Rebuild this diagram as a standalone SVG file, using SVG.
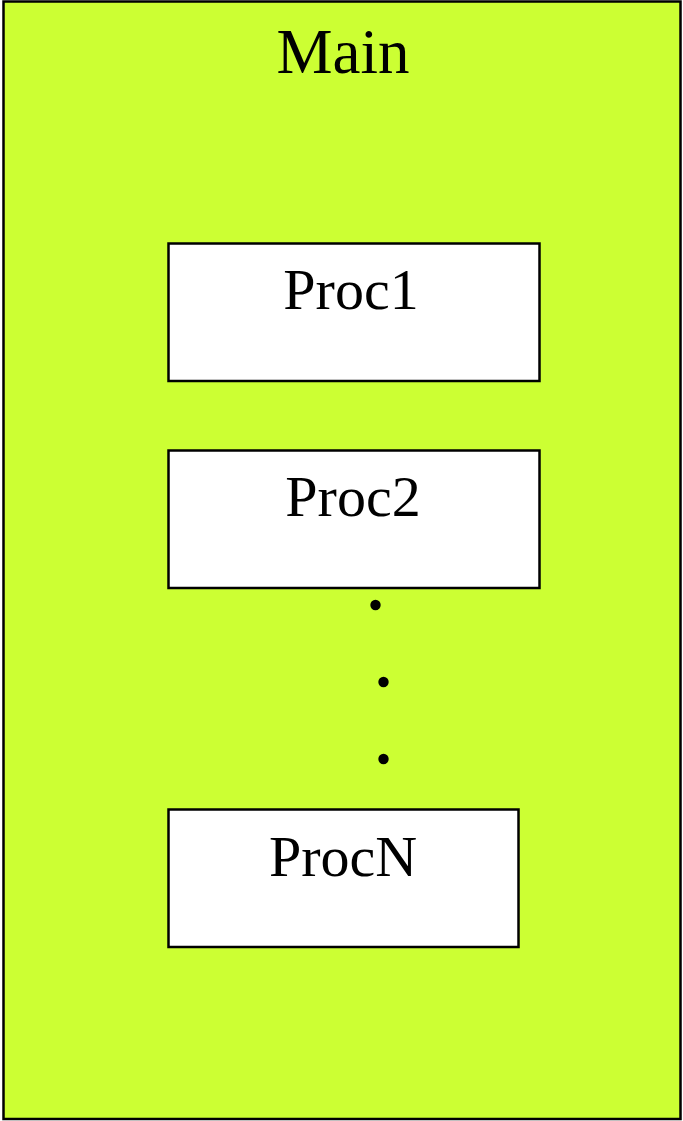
<svg xmlns="http://www.w3.org/2000/svg" width="683" height="1121" viewBox="0 0 683 1121">
<style>
.box{fill:#ffffff;stroke:#000000;stroke-width:2.5}
.lbl{font-family:"Liberation Serif","Times New Roman",serif;font-size:58px;fill:#000;text-anchor:middle}
.dot{fill:#000}
</style>
<rect width="683" height="1121" fill="#ffffff"/>
<g id="main">
<rect x="3.5" y="1.5" width="677" height="1117.5" fill="#ccff33" stroke="#000" stroke-width="2.5"/>
<text class="lbl" x="343" y="73" style="font-size:63px">Main</text>
</g>
<g id="proc1">
<rect class="box" x="168.5" y="243.5" width="371" height="137.5"/>
<text class="lbl" x="351" y="309">Proc1</text>
</g>
<g id="proc2">
<rect class="box" x="168.5" y="450.5" width="371" height="137.5"/>
<text class="lbl" x="353" y="516">Proc2</text>
</g>
<g id="ellipsis">
<circle class="dot" cx="375.5" cy="605" r="5.2"/>
<circle class="dot" cx="383.5" cy="682" r="5.2"/>
<circle class="dot" cx="383.5" cy="759" r="5.2"/>
</g>
<g id="procN">
<rect class="box" x="168.5" y="809.5" width="350" height="137.5"/>
<text class="lbl" x="343" y="876">ProcN</text>
</g>
<g id="connectors"></g>
</svg>
